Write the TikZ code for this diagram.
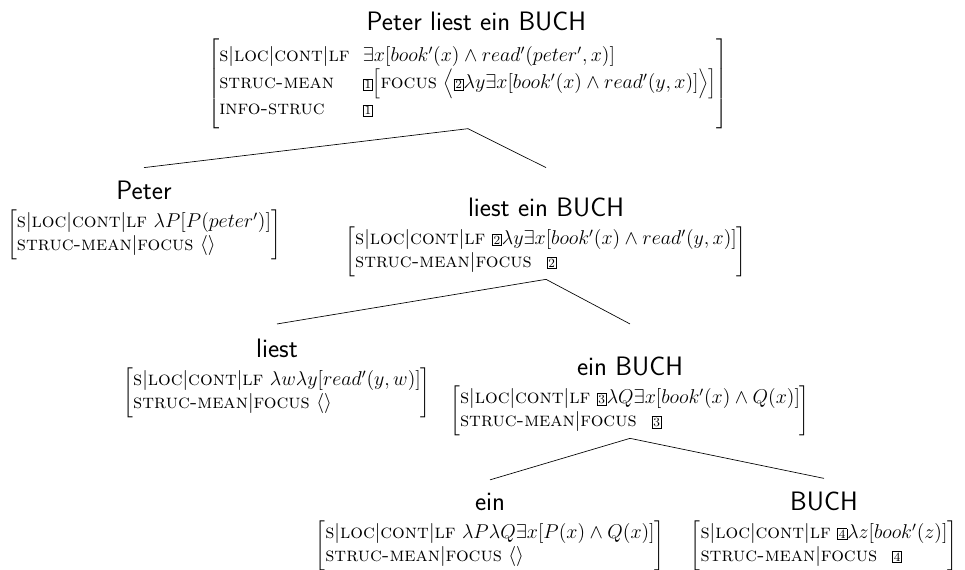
\documentclass[tikz,border=0pt]{standalone}
\usetikzlibrary{positioning,calc}

\newcommand{\tagnum}[1]{{\setlength{\fboxsep}{0.6pt}\fbox{\fontsize{7.5}{8}\selectfont #1}}}
\newcommand{\lfpath}{\textsc{s}$|$\textsc{loc}$|$\textsc{cont}$|$\textsc{lf}}
\newcommand{\focuspath}{\textsc{struc-mean}$|$\textsc{focus}}
\newcommand{\avmbox}[1]{$\left[\begin{tabular}{@{}l@{}}\rule{0pt}{12pt}#1\rule[-7pt]{0pt}{0pt}\end{tabular}\right]$}

\begin{document}
\begin{tikzpicture}[x=0.6pt, y=-0.6pt, node distance={4pt},
  word/.style = {font=\fontsize{16}{19}\selectfont\sffamily, inner sep=0pt},
  avm/.style = {font=\fontsize{12}{13.8}\selectfont, inner sep=0pt, anchor=north}]
\useasboundingbox (0,0) rectangle (965,569);

\node[avm] (s f) at (468,38) {$\left[\begin{tabular}{@{}l@{\hspace{8pt}}l@{}}
  \rule{0pt}{14pt}\lfpath & $\exists x[book'(x)\wedge read'(peter',x)]$\\
  \textsc{struc-mean} & \tagnum{1}$\Bigl[$\textsc{focus} $\Bigl\langle\tagnum{2}\lambda y\exists x[book'(x)\wedge read'(y,x)]\Bigr\rangle\Bigr]$\\
  \textsc{info-struc} & \tagnum{1}\rule[-8pt]{0pt}{0pt}
\end{tabular}\right]$};
\node[word] (s) [above=of s f, xshift=5pt] {Peter liest ein BUCH};

\node[avm] (peter f) at (144,207) {\avmbox{\lfpath{} $\lambda P[P(peter')]$\\ \focuspath{} $\langle\rangle$}};
\node[word] (peter) [above=of peter f] {Peter};

\node[avm] (vp f) at (546,224) {\avmbox{\lfpath{} \tagnum{2}$\lambda y\exists x[book'(x)\wedge read'(y,x)]$\\ \focuspath\hspace{9pt}\tagnum{2}}};
\node[word] (vp) [above=of vp f] {liest ein BUCH};

\node[avm] (liest f) at (277,365) {\avmbox{\lfpath{} $\lambda w\lambda y[read'(y,w)]$\\ \focuspath{} $\langle\rangle$}};
\node[word] (liest) [above=of liest f] {liest};

\node[avm] (np f) at (630,383) {\avmbox{\lfpath{} \tagnum{3}$\lambda Q\exists x[book'(x)\wedge Q(x)]$\\ \focuspath\hspace{9pt}\tagnum{3}}};
\node[word] (np) [above=of np f] {ein BUCH};

\node[avm] (ein f) at (490,518) {\avmbox{\lfpath{} $\lambda P\lambda Q\exists x[P(x)\wedge Q(x)]$\\ \focuspath{} $\langle\rangle$}};
\node[word] (ein) [above=of ein f] {ein};

\node[avm] (buch f) at (824,518) {\avmbox{\lfpath{} \tagnum{4}$\lambda z[book'(z)]$\\ \focuspath\hspace{9pt}\tagnum{4}}};
\node[word] (buch) [above=of buch f] {BUCH};

\draw (s f.south) -- ($(peter.north)+(0,8pt)$);
\draw (s f.south) -- ($(vp.north |- peter.north)+(0,8pt)$);
\draw (vp f.south) -- ($(liest.north)+(0,9pt)$);
\draw (vp f.south) -- ($(np.north |- liest.north)+(0,9pt)$);
\draw (np f.south) -- ($(ein.north)+(0,8pt)$);
\draw (np f.south) -- ($(buch.north)+(0,8pt)$);
\end{tikzpicture}
\end{document}
